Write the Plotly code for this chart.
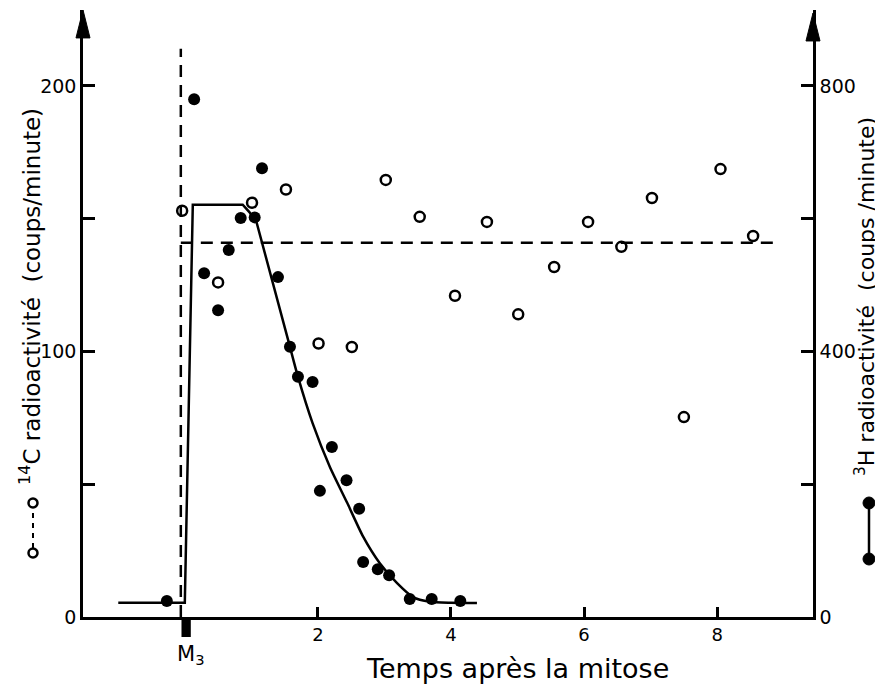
import plotly.graph_objects as go

# 3H data (filled dots), right axis, coups/minute
h3_x = [-0.27, 0.14, 0.29, 0.50, 0.66, 0.84, 1.05, 1.16, 1.40, 1.58, 1.70, 1.92,
        2.21, 2.03, 2.43, 2.62, 2.68, 2.90, 3.07, 3.38, 3.71, 4.14]
h3_y = [24, 780, 518, 462, 553, 601, 602, 676, 512, 407, 362, 354,
        256, 190, 206, 163, 83, 72, 63, 27, 27, 24]

# 3H fitted curve (step part + decay part)
h3_step_x = [-1.0, 0.0, 0.12, 0.87, 0.97, 1.08, 1.58]
h3_step_y = [21.5, 21.5, 621, 621, 610, 594, 407]
h3_decay_x = [1.58, 1.70, 1.92, 2.18, 2.44, 2.68, 2.93, 3.19, 3.43, 3.68, 4.0, 4.39]
h3_decay_y = [407, 362, 292, 226, 172, 121, 81, 51, 30, 23, 21.5, 21]

# 14C data (open circles), left axis, coups/minute
c14_x = [-0.04, 0.50, 1.01, 1.52, 2.01, 2.51, 3.02, 3.53, 4.06, 4.54, 5.01,
         5.55, 6.06, 6.56, 7.02, 7.50, 8.05, 8.54]
c14_y = [153, 126, 156, 161, 103, 101.7, 164.6, 150.7, 121, 148.8, 114,
         131.8, 148.8, 139.4, 157.8, 75.3, 168.7, 143.5]

# dashed reference lines (14C units)
vline_x = [-0.06, -0.06]
vline_y = [0, 214]
hline_x = [-0.06, 8.9]
hline_y = [140.9, 140.9]

x_ticks = [2, 4, 6, 8]
left_ticks = [0, 100, 200]
left_minor = [50, 150]
right_ticks = [0, 400, 800]
right_minor = [200, 600]

FONT = "DejaVu Sans"
W = 2.5

fig = go.Figure()
fig.add_trace(go.Scatter(x=vline_x, y=vline_y, mode="lines",
                         line=dict(color="black", width=W, dash="12px,8px"), showlegend=False))
fig.add_trace(go.Scatter(x=hline_x, y=hline_y, mode="lines",
                         line=dict(color="black", width=W, dash="12px,8px"), showlegend=False))
fig.add_trace(go.Scatter(x=c14_x, y=c14_y, mode="markers",
                         marker=dict(symbol="circle-open", size=10, color="black", line=dict(width=2.5)),
                         showlegend=False))
fig.add_trace(go.Scatter(x=h3_step_x, y=h3_step_y, mode="lines", yaxis="y2",
                         line=dict(color="black", width=W), showlegend=False))
fig.add_trace(go.Scatter(x=h3_decay_x, y=h3_decay_y, mode="lines", yaxis="y2",
                         line=dict(color="black", width=W, shape="spline", smoothing=0.6), showlegend=False))
fig.add_trace(go.Scatter(x=h3_x, y=h3_y, mode="markers", yaxis="y2",
                         marker=dict(symbol="circle", size=12, color="black"), showlegend=False))

YTOP = 228.6
tick_common = dict(ticks="inside", ticklen=12, tickwidth=W, tickcolor="black")
fig.update_layout(
    width=875, height=678,
    margin=dict(l=75, r=70, t=2, b=69),
    paper_bgcolor="white", plot_bgcolor="white",
    font=dict(family=FONT, color="black", size=17),
    xaxis=dict(range=[-1.53, 9.44], showgrid=False, zeroline=False,
               showline=True, linecolor="black", linewidth=W,
               tickvals=x_ticks, ticks="inside", ticklen=10, tickwidth=W,
               tickcolor="black", tickfont=dict(size=18)),
    yaxis=dict(range=[0, YTOP], showgrid=False, zeroline=False,
               showline=True, linecolor="black", linewidth=W,
               tickvals=left_ticks, tickfont=dict(size=19),
               minor=dict(tickvals=left_minor, **tick_common), **tick_common),
    yaxis2=dict(range=[0, YTOP * 4], overlaying="y", side="right", showgrid=False,
                zeroline=False, showline=True, linecolor="black", linewidth=W,
                tickvals=right_ticks, tickfont=dict(size=19),
                minor=dict(tickvals=right_minor, **tick_common), **tick_common),
)

# arrowheads on vertical axes
for xpp, yt in [(0.0, 1.0), (1.0, 0.995)]:
    fig.add_shape(type="path", xref="paper", yref="paper",
                  path=f"M {xpp-0.0096},{yt-0.046} L {xpp},{yt} L {xpp+0.0096},{yt-0.046} Z",
                  fillcolor="black", line=dict(color="black", width=1))

# M3 marker below axis
fig.add_shape(type="rect", xref="x", yref="paper", x0=-0.05, x1=0.09, y0=-0.033, y1=0,
              fillcolor="black", line=dict(width=0))
fig.add_annotation(x=0.09, y=-0.063, xref="x", yref="paper", text="M<sub>3</sub>",
                   showarrow=False, font=dict(size=21), xanchor="center", yanchor="middle")

# axis titles
fig.add_annotation(x=(517 - 83) / 730, y=(617 - 668) / 607, xref="paper", yref="paper",
                   text="Temps après la mitose", xanchor="center", yanchor="middle",
                   showarrow=False, font=dict(size=27))
fig.add_annotation(x=(30 - 83) / 730, y=(617 - 297) / 607, xref="paper", yref="paper",
                   text="<sup>14</sup>C radioactivité  (coups/minute)", textangle=-90,
                   xanchor="center", yanchor="middle",
                   showarrow=False, font=dict(size=23))
fig.add_annotation(x=(865 - 83) / 730, y=(617 - 297) / 607, xref="paper", yref="paper",
                   text="<sup>3</sup>H radioactivité  (coups /minute)", textangle=-90,
                   xanchor="center", yanchor="middle",
                   showarrow=False, font=dict(size=22))

# legend glyphs: left open circles with dashed link, right filled dots with solid link
def yp(py):
    return (617 - py) / 607
def xp(px):
    return (px - 83) / 730

fig.add_shape(type="line", xref="paper", yref="paper", x0=xp(33), x1=xp(33), y0=yp(503), y1=yp(553),
              line=dict(color="black", width=2, dash="5px,5px"))
for py in [503, 553]:
    fig.add_shape(type="circle", xref="paper", yref="paper", xsizemode="pixel", ysizemode="pixel",
                  xanchor=xp(33), yanchor=yp(py), x0=-4.5, x1=4.5, y0=-4.5, y1=4.5,
                  fillcolor="white", line=dict(color="black", width=2.5))
fig.add_shape(type="line", xref="paper", yref="paper", x0=xp(869), x1=xp(869), y0=yp(503), y1=yp(559),
              line=dict(color="black", width=2.5))
for py in [503, 559]:
    fig.add_shape(type="circle", xref="paper", yref="paper", xsizemode="pixel", ysizemode="pixel",
                  xanchor=xp(869), yanchor=yp(py), x0=-6, x1=6, y0=-6, y1=6,
                  fillcolor="black", line=dict(color="black", width=1))

fig.write_html("out.html")
